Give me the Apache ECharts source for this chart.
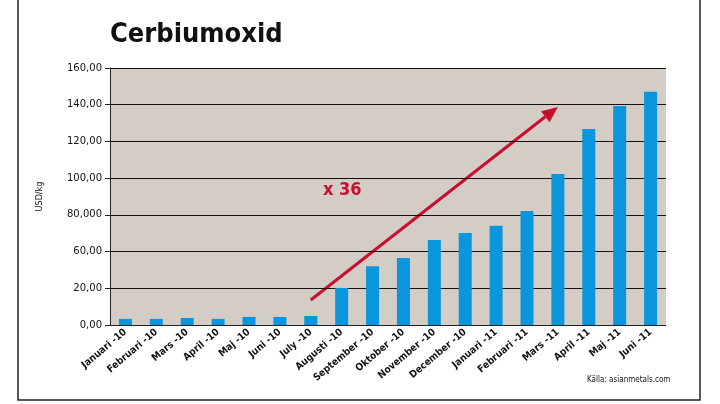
<!DOCTYPE html><html><head><meta charset="utf-8"><script src="https://cdn.jsdelivr.net/npm/echarts@6/dist/echarts.min.js"></script>
<style>html,body{margin:0;background:#fff}#c{width:720px;height:404px}</style></head><body><div id="c"></div><script>
const categories=['Januari -10','Februari -10','Mars -10','April -10','Maj -10','Juni -10','July -10','Augusti -10','September -10','Oktober -10','November -10','December -10','Januari -11','Februari -11','Mars -11','April -11','Maj -11','Juni -11'];
const values=[3.3,3.3,3.8,3.3,4.4,4.4,4.9,20.2,32,36.5,46.3,50.1,54,62.1,82.3,106.8,119.3,127];
const tickLabels=['0,00','20,00','60,00','80,000','100,00','120,00','140,00','160,00'];
const chart=echarts.init(document.getElementById('c'));
const F='"Liberation Sans Narrow","DejaVu Sans Condensed",sans-serif';
chart.setOption({
 animation:false,
 grid:{left:110,right:54,top:68,bottom:79,show:true,backgroundColor:'#d3cdc6',borderWidth:0},
 title:{text:'Cerbiumoxid',left:105,top:16,textStyle:{fontFamily:'DejaVu Sans Condensed',fontWeight:'bold',fontSize:27,color:'#111'}},
 xAxis:{type:'category',data:categories,axisLine:{lineStyle:{color:'#222'}},axisTick:{lineStyle:{color:'#222'}},
  axisLabel:{rotate:40,fontSize:10,fontWeight:'bold',fontFamily:F,color:'#111',interval:0,margin:6}},
 yAxis:{type:'value',min:0,max:140,interval:20,name:'USD/kg',nameLocation:'middle',nameGap:66,nameTextStyle:{fontSize:9,fontFamily:F,color:'#111'},
  axisLine:{show:true,lineStyle:{color:'#222'}},axisTick:{show:true,lineStyle:{color:'#222'}},
  splitLine:{lineStyle:{color:'#111',width:1}},
  axisLabel:{fontSize:10,fontFamily:'DejaVu Sans',color:'#111',formatter:(v)=>tickLabels[Math.round(v/20)]}},
 series:[{type:'bar',data:values,barWidth:13,itemStyle:{color:'#0a96dc'}}],
 graphic:[
  {type:'rect',shape:{x:18,y:-2,width:682,height:402},style:{fill:null,stroke:'#222',lineWidth:1.5}},
  {type:'text',left:587,top:376,style:{text:'Källa: asianmetals.com',fontSize:8,fontFamily:F,fill:'#111'}},
  {type:'text',left:323,top:181,style:{text:'x 36',fontSize:18,fontWeight:'bold',fontFamily:F,fill:'#c8102e'}}
 ]
});
const p1=chart.convertToPixel({gridIndex:0},[5.5,13.6]);
const p2=chart.convertToPixel({gridIndex:0},[13.7,118.8]);
const ang=Math.atan2(p2[1]-p1[1],p2[0]-p1[0]);
const L=16,W=7;
const bx=p2[0]-L*Math.cos(ang),by=p2[1]-L*Math.sin(ang);
chart.setOption({graphic:[{},{},{},
 {type:'line',shape:{x1:p1[0],y1:p1[1],x2:bx,y2:by},style:{stroke:'#c8102e',lineWidth:3}},
 {type:'polygon',shape:{points:[[p2[0],p2[1]],[bx+W*Math.sin(ang),by-W*Math.cos(ang)],[bx-W*Math.sin(ang),by+W*Math.cos(ang)]]},style:{fill:'#c8102e'}}
]});
</script></body></html>
